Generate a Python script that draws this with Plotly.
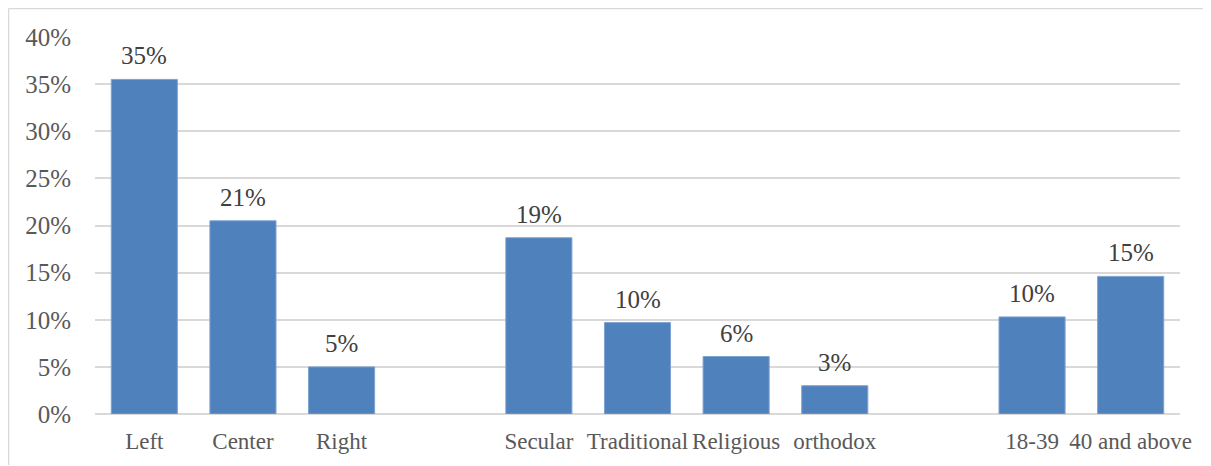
import plotly.graph_objects as go

categories = ["Left", "Center", "Right", " ", "Secular", "Traditional", "Religious",
              "orthodox", "  ", "18-39", "40 and above"]
values = [0.355, 0.205, 0.050, None, 0.187, 0.097, 0.061, 0.030, None, 0.103, 0.146]
labels = ["35%", "21%", "5%", "", "19%", "10%", "6%", "3%", "", "10%", "15%"]
y_ticks = [0, 0.05, 0.10, 0.15, 0.20, 0.25, 0.30, 0.35, 0.40]
y_tick_labels = ["0%", "5%", "10%", "15%", "20%", "25%", "30%", "35%", "40%"]

# page has an 8px body margin; figure sized to fill the rest
W, H = 1203, 458
ml, mr, mt, mb = 87, 31, 29, 52
pw, ph = W - ml - mr, H - mt - mb

FONT = "Liberation Serif"
TXT = "#595959"

fig = go.Figure()
fig.add_trace(go.Bar(
    x=categories, y=values,
    marker=dict(color="#4F81BD", line=dict(color="#7EA2D2", width=1)),
    hoverinfo="skip",
))

for c, v, t in zip(categories, values, labels):
    if v is None:
        continue
    fig.add_annotation(x=c, y=v, text=t, showarrow=False, yanchor="bottom",
                       yshift=8, font=dict(family=FONT, size=25, color="#404040"))

def px_x(p):
    return (p - ml) / pw

def px_y(p):
    return (H - mb - p) / ph

fig.add_shape(type="line", xref="paper", yref="paper",
              x0=px_x(0.5), x1=px_x(W + 5), y0=px_y(0.5), y1=px_y(0.5),
              line=dict(color="#D9D9D9", width=1.5))
fig.add_shape(type="line", xref="paper", yref="paper",
              x0=px_x(0.5), x1=px_x(0.5), y0=px_y(0.5), y1=px_y(457),
              line=dict(color="#D9D9D9", width=1.5))

fig.update_layout(
    width=W, height=H,
    margin=dict(l=ml, r=mr, t=mt, b=mb),
    paper_bgcolor="white", plot_bgcolor="white",
    bargap=0.33, showlegend=False,
    font=dict(family=FONT, size=23, color=TXT),
)
fig.update_xaxes(type="category", categoryorder="array", categoryarray=categories,
                 showgrid=False, showline=False, ticks="outside", ticklen=6,
                 tickcolor="rgba(0,0,0,0)",
                 tickfont=dict(family=FONT, size=23, color=TXT))
fig.update_yaxes(range=[0, 0.40], tickvals=y_ticks, ticktext=y_tick_labels,
                 showgrid=True, gridcolor="#D9D9D9", gridwidth=1.5,
                 zeroline=True, zerolinecolor="#D9D9D9", zerolinewidth=1.5,
                 showline=False, ticks="outside", ticklen=18,
                 tickcolor="rgba(0,0,0,0)",
                 tickfont=dict(family=FONT, size=25, color=TXT))

fig.write_html("out.html")
